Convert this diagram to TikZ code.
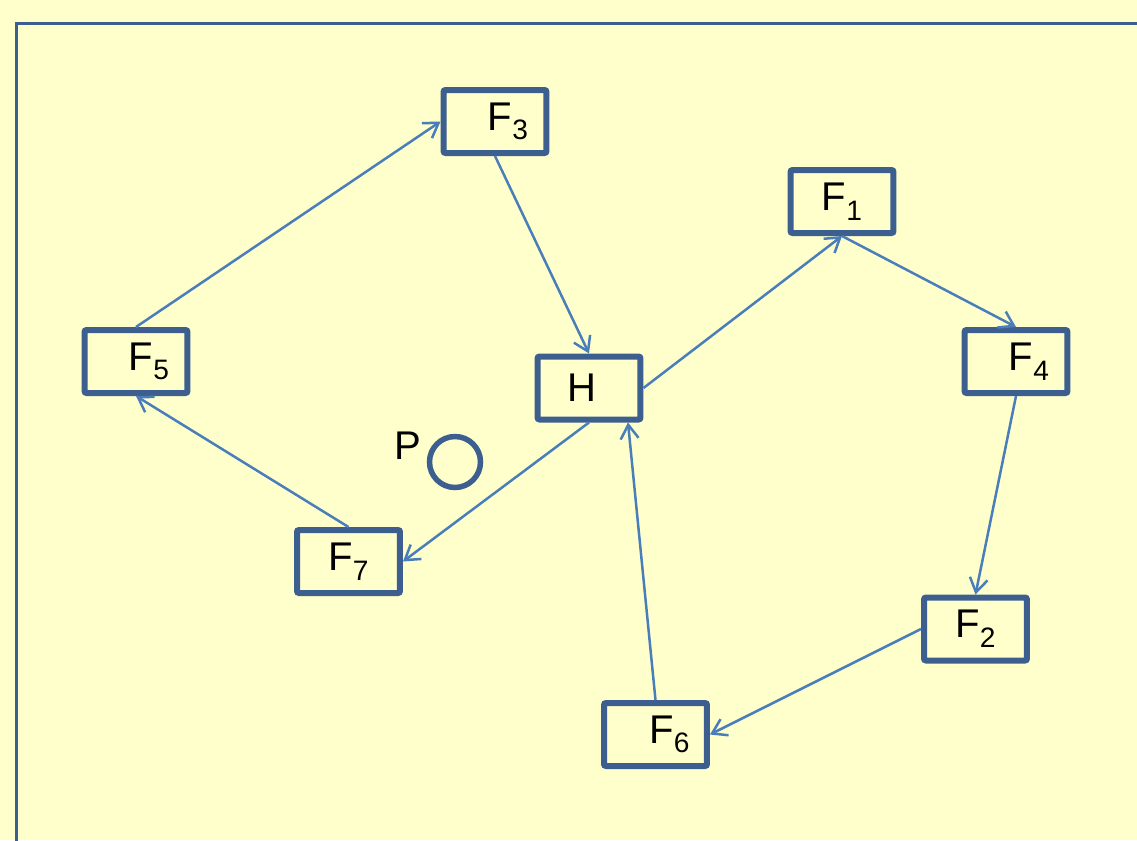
\documentclass[tikz,border=0pt]{standalone}
\usepackage{fontspec}
\setmainfont{Liberation Sans}
\usetikzlibrary{arrows.meta}
\definecolor{paper}{HTML}{FFFFCC}
\definecolor{boxblue}{HTML}{3D5F8F}
\definecolor{linkblue}{HTML}{4A7EBB}
\newcommand{\fsub}[1]{F\raisebox{-0.24em}{\fontsize{16}{16}\selectfont #1}}
\begin{document}
\begin{tikzpicture}[x=0.02cm,y=-0.02cm,
  fbox/.style={draw=boxblue,line width=0.12cm,rounded corners=0.04cm,
    minimum width=2.06cm,minimum height=1.26cm,inner sep=0pt,
    font=\fontsize{22.8}{27}\selectfont},
  link/.style={draw=linkblue,line width=0.05cm,
    -{Straight Barb[length=0.28cm,width=0.36cm,line width=0.05cm]}}]
  % page and frame
  \fill[paper] (0,0) rectangle (1137,840);
  \useasboundingbox (0,0) rectangle (1137,840);
  \begin{scope}
    \clip (0,0) rectangle (1137,840);
    \draw[boxblue,line width=0.07cm] (16.5,23.5) rectangle (1200,900);
  \end{scope}
  % boxes
  \node[fbox] (F3) at (495,121.5) {\hspace*{0.52cm}\fsub{3}};
  \node[fbox] (F1) at (842,201.5) {\fsub{1}};
  \node[fbox] (F5) at (136,361.5) {\hspace*{0.52cm}\fsub{5}};
  \node[fbox] (H)  at (589,388) {H\hspace*{0.28cm}};
  \node[fbox] (F4) at (1016,361.5) {\hspace*{0.52cm}\fsub{4}};
  \node[fbox] (F7) at (348.5,561.5) {\fsub{7}};
  \node[fbox] (F2) at (975.5,629) {\fsub{2}};
  \node[fbox] (F6) at (655.5,734.5) {\hspace*{0.56cm}\fsub{6}};
  % point P
  \node[draw=boxblue,line width=0.11cm,circle,minimum size=1.02cm,inner sep=0pt] (P) at (455,462) {};
  \node[font=\fontsize{22.8}{27}\selectfont] (Plabel) at (408,446) {P};
  % connectors
  \draw[link] (F5.north) -- (F3.west);
  \draw[link] (F3.south) -- (H.north);
  \draw[link] (H.east) -- (F1.south);
  \draw[link] (F1.south) -- (F4.north);
  \draw[link] (F4.south) -- (F2.north);
  \draw[link] (F2.west) -- (F6.east);
  \draw[link] (F6.north) -- ([xshift=0.78cm]H.south);
  \draw[link] (H.south) -- (F7.east);
  \draw[link] (F7.north) -- (F5.south);
\end{tikzpicture}
\end{document}
